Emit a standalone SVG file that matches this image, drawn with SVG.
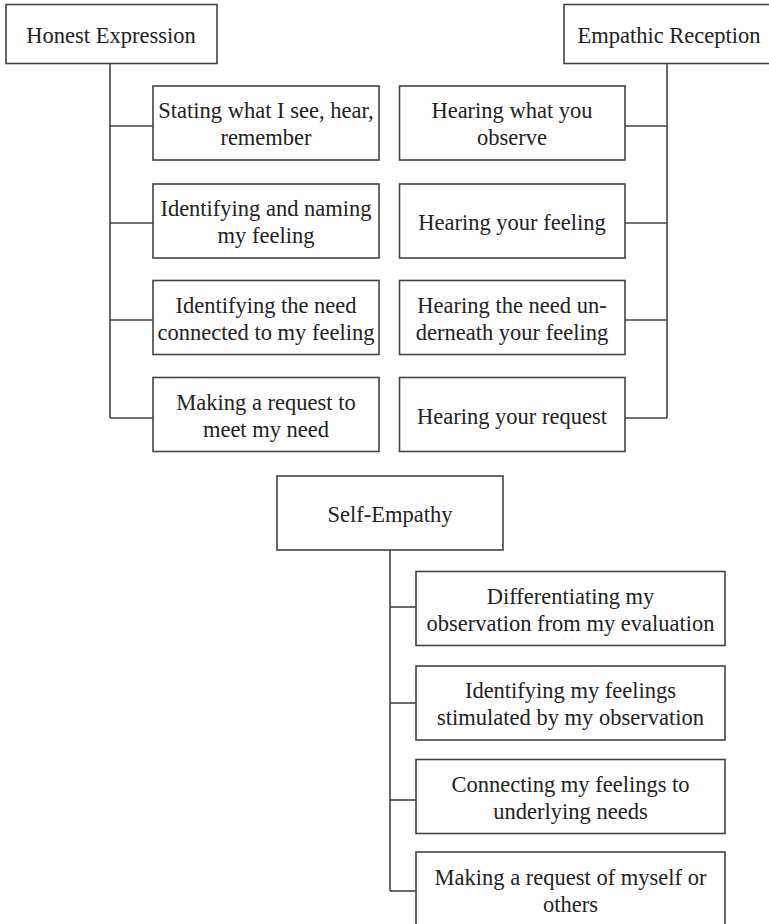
<svg xmlns="http://www.w3.org/2000/svg" width="769" height="924" viewBox="0 0 769 924">
<style>
  rect.box { fill: #fff; stroke: #444; stroke-width: 1.6; }
  text { font-family: "Liberation Serif", "DejaVu Serif", serif; font-size: 22.5px; fill: #222; text-anchor: middle; }
  .conn line { stroke: #444; stroke-width: 1.6; }
</style>
<rect width="769" height="924" fill="#fff"/>
<g class="conn" id="connectors">
  <line x1="110" y1="63" x2="110" y2="418"/>
  <line x1="110" y1="126" x2="153" y2="126"/>
  <line x1="110" y1="223" x2="153" y2="223"/>
  <line x1="110" y1="320" x2="153" y2="320"/>
  <line x1="110" y1="418" x2="153" y2="418"/>
  <line x1="667" y1="63" x2="667" y2="418"/>
  <line x1="625" y1="126" x2="667" y2="126"/>
  <line x1="625" y1="223" x2="667" y2="223"/>
  <line x1="625" y1="320" x2="667" y2="320"/>
  <line x1="625" y1="418" x2="667" y2="418"/>
  <line x1="390" y1="550" x2="390" y2="891"/>
  <line x1="390" y1="607" x2="416" y2="607"/>
  <line x1="390" y1="703" x2="416" y2="703"/>
  <line x1="390" y1="800" x2="416" y2="800"/>
  <line x1="390" y1="891" x2="416" y2="891"/>
</g>
<g id="honest-expression"><rect class="box" x="6" y="4.5" width="211" height="59"/><text x="111" y="43">Honest Expression</text></g>
<g id="he1"><rect class="box" x="153" y="86" width="226" height="74"/><text x="266" y="118">Stating what I see, hear,</text><text x="266" y="145">remember</text></g>
<g id="he2"><rect class="box" x="153" y="184" width="226" height="74"/><text x="266" y="216">Identifying and naming</text><text x="266" y="243">my feeling</text></g>
<g id="he3"><rect class="box" x="153" y="280.5" width="226" height="74"/><text x="266" y="313">Identifying the need</text><text x="266" y="340">connected to my feeling</text></g>
<g id="he4"><rect class="box" x="153" y="377.5" width="226" height="74"/><text x="266" y="410">Making a request to</text><text x="266" y="437">meet my need</text></g>
<g id="empathic-reception"><rect class="box" x="564" y="4.5" width="211" height="59"/><text x="669" y="43">Empathic Reception</text></g>
<g id="er1"><rect class="box" x="399.5" y="86" width="225.5" height="74"/><text x="512" y="118">Hearing what you</text><text x="512" y="145">observe</text></g>
<g id="er2"><rect class="box" x="399.5" y="184" width="225.5" height="74"/><text x="512" y="230">Hearing your feeling</text></g>
<g id="er3"><rect class="box" x="399.5" y="280.5" width="225.5" height="74"/><text x="512" y="313">Hearing the need un-</text><text x="512" y="340">derneath your feeling</text></g>
<g id="er4"><rect class="box" x="399.5" y="377.5" width="225.5" height="74"/><text x="512" y="424">Hearing your request</text></g>
<g id="self-empathy"><rect class="box" x="277" y="476" width="226" height="74"/><text x="390" y="522">Self-Empathy</text></g>
<g id="se1"><rect class="box" x="416" y="571.5" width="309" height="74"/><text x="570.5" y="603.5">Differentiating my</text><text x="570.5" y="630.5">observation from my evaluation</text></g>
<g id="se2"><rect class="box" x="416" y="666" width="309" height="74"/><text x="570.5" y="698">Identifying my feelings</text><text x="570.5" y="725">stimulated by my observation</text></g>
<g id="se3"><rect class="box" x="416" y="759.5" width="309" height="74"/><text x="570.5" y="792">Connecting my feelings to</text><text x="570.5" y="819">underlying needs</text></g>
<g id="se4"><rect class="box" x="416" y="852" width="309" height="80"/><text x="570.5" y="885">Making a request of myself or</text><text x="570.5" y="912">others</text></g>
</svg>
